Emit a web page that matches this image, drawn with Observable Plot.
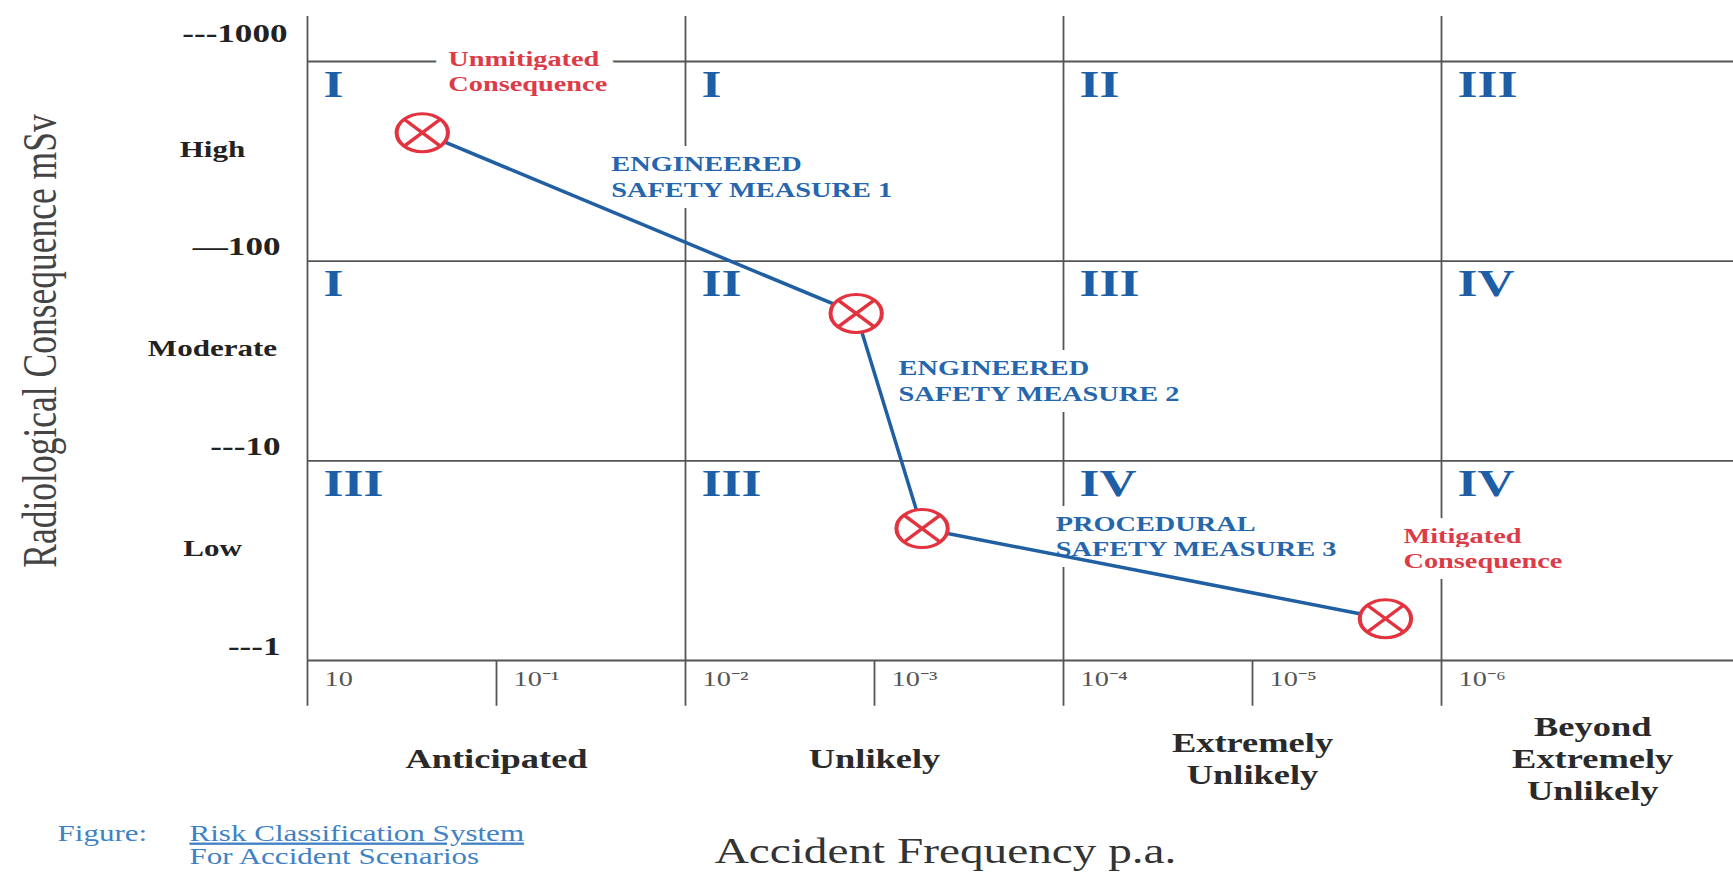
<!DOCTYPE html>
<html>
<head>
<meta charset="utf-8">
<script src="https://cdn.jsdelivr.net/npm/d3@7"></script>
<script src="https://cdn.jsdelivr.net/npm/@observablehq/plot@0.6"></script>
<style>
  body { margin: 0; background: #fff; }
  #chart svg { display: block; }
</style>
</head>
<body>
<div id="chart"></div>
<script>
// ---------------- data ----------------
const consequenceBounds = [1000, 100, 10, 1];                 // mSv class boundaries
const consequenceTickLabels = ["---1000", "—100", "---10", "---1"];
const consequenceClasses = ["High", "Moderate", "Low"];

const frequencyDecades = [1, 1e-1, 1e-2, 1e-3, 1e-4, 1e-5, 1e-6]; // per annum
const frequencyTickLabels = ["10", "10⁻¹", "10⁻²", "10⁻³", "10⁻⁴", "10⁻⁵", "10⁻⁶"];
const frequencyClassBounds = [1, 1e-2, 1e-4, 1e-6];
const frequencyClasses = ["Anticipated", "Unlikely", "Extremely\nUnlikely", "Beyond\nExtremely\nUnlikely"];
const frequencyClassCenters = [1e-1, 1e-3, 1e-5, 10 ** -6.8];

const riskClasses = [            // rows: High, Moderate, Low; columns: frequency classes
  ["I", "I", "II", "III"],
  ["I", "II", "III", "IV"],
  ["III", "III", "IV", "IV"]
];

const scenarioFrequency = [0.247, 1.25e-3, 5.6e-4, 1.98e-6];
const scenarioDose = [440, 54.7, 4.58, 1.62];

const annotationText = ["Unmitigated\nConsequence", "ENGINEERED\nSAFETY MEASURE 1", "ENGINEERED\nSAFETY MEASURE 2", "PROCEDURAL\nSAFETY MEASURE 3", "Mitigated\nConsequence"];
const annotationFrequency = [0.18, 0.0247, 7.46e-4, 1.10e-4, 1.59e-6];
const annotationDose = [900, 267, 25.4, 4.25, 3.70];
const annotationKind = ["consequence", "measure", "measure", "measure", "consequence"];

const xTitle = "Accident Frequency p.a.";
const yTitle = "Radiological Consequence mSv";
const captionLead = "Figure:";
const captionTitle = "Risk Classification System";
const captionSub = "For Accident Scenarios";

// ---------------- derived tables ----------------
const scenarios = scenarioFrequency.map((f, i) => ({freq: f, dose: scenarioDose[i]}));
const annotations = annotationText.map((t, i) => ({text: t, freq: annotationFrequency[i], dose: annotationDose[i], kind: annotationKind[i]}));
const cells = riskClasses.flatMap((row, r) => row.map((label, c) => ({label, freq: frequencyClassBounds[c], dose: consequenceBounds[r]})));
const minorDecades = frequencyDecades.filter(d => !frequencyClassBounds.includes(d));
const bandMids = consequenceClasses.map((_, i) => Math.sqrt(consequenceBounds[i] * consequenceBounds[i + 1]));

const GRID = "#555";
const BLUE_TXT = "#2566ad";
const NUM_BLUE = "#1d5ea6";
const RED = "#e2333f";
const CAP = "#3f82c4";

const chart = Plot.plot({
  width: 1733,
  height: 872,
  marginLeft: 307,
  marginRight: 0,
  marginTop: 61,
  marginBottom: 212,
  style: {fontFamily: "'Liberation Serif', 'Times New Roman', serif", background: "#fff"},
  x: {type: "log", domain: [1, 10 ** -7.545], axis: null},
  y: {type: "log", domain: [1, 1000], axis: null},
  marks: [
    // grid
    Plot.ruleY(consequenceBounds, {stroke: GRID, strokeWidth: 1.8}),
    Plot.ruleX(frequencyClassBounds, {y1: 1680, y2: 0.59, stroke: GRID, strokeWidth: 1.8}),
    Plot.ruleX(minorDecades, {y1: 1, y2: 0.59, stroke: GRID, strokeWidth: 1.8}),

    // risk class numerals
    Plot.text(cells, {x: "freq", y: "dose", text: "label", textAnchor: "start", lineAnchor: "middle", dx: 16, dy: 23,
      fontSize: 38, fontWeight: "bold", fill: NUM_BLUE}),

    // annotations with white halo that breaks the grid lines
    Plot.text(annotations, {x: "freq", y: "dose", text: "text", textAnchor: "start", lineAnchor: "middle", lineHeight: 1.2,
      fontSize: 21, fontWeight: "bold",
      fill: d => d.kind === "measure" ? BLUE_TXT : "#dc3c48",
      stroke: "white", strokeWidth: 22, paintOrder: "stroke", strokeLinejoin: "round"}),

    // scenario path
    Plot.line(scenarios, {x: "freq", y: "dose", stroke: "#1f5fa2", strokeWidth: 3.5}),
    Plot.dot(scenarios, {x: "freq", y: "dose", r: 19, fill: "white", stroke: RED, strokeWidth: 3}),
    Plot.dot(scenarios, {x: "freq", y: "dose", r: 12, symbol: "times", stroke: RED, strokeWidth: 3}),

    // y axis labels
    Plot.text(consequenceBounds, {y: d => d, text: (d, i) => consequenceTickLabels[i], filter: d => d !== 1000,
      frameAnchor: "left", dx: -27, dy: -14, textAnchor: "end", lineAnchor: "middle", fontSize: 26, fontWeight: "bold", fill: "#222"}),
    Plot.text(consequenceBounds, {y: d => d, text: (d, i) => consequenceTickLabels[i], filter: d => d === 1000,
      frameAnchor: "left", dx: -20, dy: -28, textAnchor: "end", lineAnchor: "middle", fontSize: 26, fontWeight: "bold", fill: "#222"}),
    Plot.text(consequenceClasses, {y: (d, i) => bandMids[i], frameAnchor: "left", dx: -95, dy: -12,
      textAnchor: "middle", lineAnchor: "middle", fontSize: 23, fontWeight: "bold", fill: "#222"}),

    // x axis labels
    Plot.text(frequencyDecades, {x: d => d, text: (d, i) => frequencyTickLabels[i], frameAnchor: "bottom",
      dx: 17, dy: 19, textAnchor: "start", lineAnchor: "middle", fontSize: 21, fill: "#555"}),
    Plot.text(frequencyClasses, {x: (d, i) => frequencyClassCenters[i], frameAnchor: "bottom", dy: 97,
      textAnchor: "middle", lineAnchor: "middle", lineHeight: 1.19, fontSize: 27, fontWeight: "bold", fill: "#2a2a2a"}),

    // titles
    Plot.text([xTitle], {frameAnchor: "bottom", dx: -75, dy: 191, textAnchor: "middle", lineAnchor: "middle", fontSize: 35, fill: "#333"}),
    Plot.text([yTitle], {frameAnchor: "left", dx: -267, dy: -20, rotate: -90, textAnchor: "middle", lineAnchor: "middle", fontSize: 35.5, fill: "#444"}),

    // caption
    Plot.text([captionLead], {frameAnchor: "bottom-left", dx: -250, dy: 173, textAnchor: "start", lineAnchor: "middle", fontSize: 23, fill: CAP}),
    Plot.text([captionTitle], {frameAnchor: "bottom-left", dx: -118, dy: 173, textAnchor: "start", lineAnchor: "middle", fontSize: 23, fill: CAP, ariaDescription: "caption-title"}),
    Plot.text([captionSub], {frameAnchor: "bottom-left", dx: -118, dy: 196, textAnchor: "start", lineAnchor: "middle", fontSize: 23, fill: CAP})
  ]
});

// The reference figure is horizontally stretched; reproduce that on text and markers.
const S = 1.35;
function stretch(el) {
  const tr = el.getAttribute("transform");
  if (tr && /translate\(/.test(tr)) {
    el.setAttribute("transform", tr.replace(/(translate\([^)]*\))/, `$1 scale(${S},1)`));
  } else {
    const x = +(el.getAttribute("x") || el.getAttribute("cx") || 0);
    const y = +(el.getAttribute("y") || el.getAttribute("cy") || 0);
    ["x", "y", "cx", "cy"].forEach(a => el.removeAttribute(a));
    el.setAttribute("transform", `translate(${x},${y}) scale(${S},1)` + (tr ? " " + tr : ""));
  }
}
chart.querySelectorAll('g[aria-label="text"] > text, g[aria-label="dot"] > circle, g[aria-label="dot"] > path').forEach(stretch);
const cap = chart.querySelector('g[aria-description="caption-title"]');
if (cap) cap.querySelectorAll("text").forEach(t => t.setAttribute("text-decoration", "underline"));

document.getElementById("chart").appendChild(chart);
</script>
</body>
</html>
